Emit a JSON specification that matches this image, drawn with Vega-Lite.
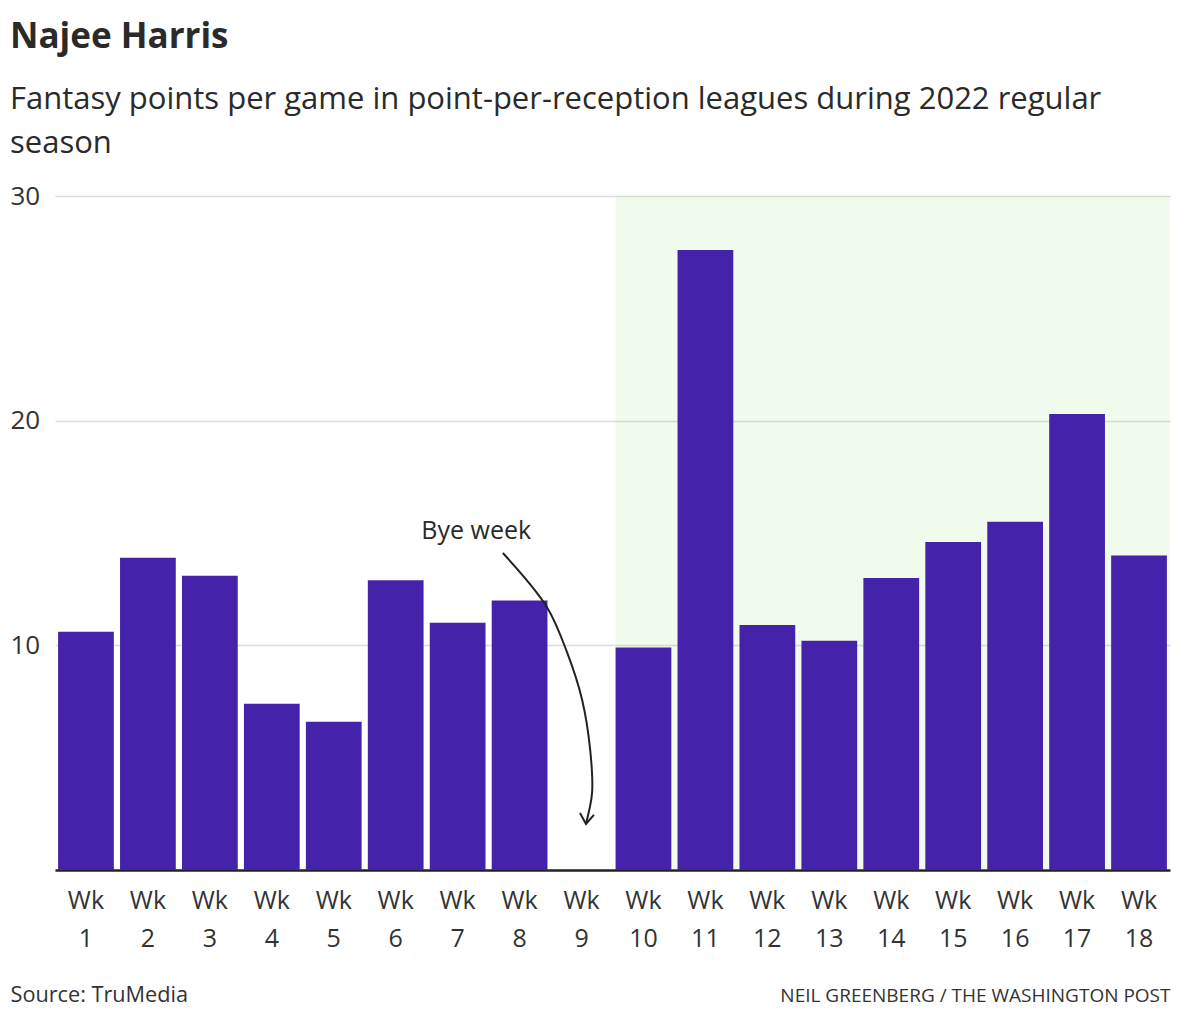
{
  "$schema": "https://vega.github.io/schema/vega-lite/v6.json",
  "width": 1115,
  "height": 674,
  "autosize": {"type": "none"},
  "padding": {"left": 55, "top": 196, "right": 10, "bottom": 150},
  "background": "white",
  "title": {
    "text": "Najee Harris",
    "subtitle": ["Fantasy points per game in point-per-reception leagues during 2022 regular", "season"],
    "anchor": "start",
    "frame": "group",
    "dx": -45,
    "offset": 24,
    "font": "Open Sans",
    "fontSize": 35,
    "fontWeight": "bold",
    "color": "#2a2a2a",
    "subtitleFont": "Open Sans",
    "subtitleFontSize": 31,
    "subtitleColor": "#2a2a2a",
    "subtitleLineHeight": 44.5,
    "subtitlePadding": 30
  },
  "config": {
    "view": {"stroke": null},
    "font": "Open Sans",
    "axisY": {
      "grid": true,
      "gridColor": "#dcdcdc",
      "gridWidth": 1.5,
      "domain": false,
      "ticks": false,
      "tickSize": 0,
      "labelAlign": "left",
      "labelPadding": 45,
      "labelBaseline": "middle",
      "labelFontSize": 26,
      "labelColor": "#333333"
    }
  },
  "datasets": {
    "weeks": [
      {"week": 1, "pts": 10.6},
      {"week": 2, "pts": 13.9},
      {"week": 3, "pts": 13.1},
      {"week": 4, "pts": 7.4},
      {"week": 5, "pts": 6.6},
      {"week": 6, "pts": 12.9},
      {"week": 7, "pts": 11.0},
      {"week": 8, "pts": 12.0},
      {"week": 9, "pts": null},
      {"week": 10, "pts": 9.9},
      {"week": 11, "pts": 27.6},
      {"week": 12, "pts": 10.9},
      {"week": 13, "pts": 10.2},
      {"week": 14, "pts": 13.0},
      {"week": 15, "pts": 14.6},
      {"week": 16, "pts": 15.5},
      {"week": 17, "pts": 20.3},
      {"week": 18, "pts": 14.0}
    ],
    "shade": [{"from": 9.55, "to": 18.5}],
    "curve": [
      {"ord": 1, "x": 7.73, "y": 14.11},
      {"ord": 2, "x": 8.44, "y": 11.71},
      {"ord": 3, "x": 8.77, "y": 9.66},
      {"ord": 4, "x": 9.01, "y": 7.57},
      {"ord": 5, "x": 9.14, "y": 5.34},
      {"ord": 6, "x": 9.17, "y": 3.43},
      {"ord": 7, "x": 9.07, "y": 2.05}
    ],
    "head": [
      {"ord": 1, "x": 8.975, "y": 2.54},
      {"ord": 2, "x": 9.072, "y": 2.05},
      {"ord": 3, "x": 9.2, "y": 2.45}
    ],
    "note": [{"label": "Bye week", "x": 7.3, "y": 15.1}]
  },
  "layer": [
    {
      "data": {"name": "shade"},
      "mark": {"type": "rect", "color": "#96e173", "opacity": 0.13},
      "encoding": {
        "x": {
          "field": "from",
          "type": "quantitative",
          "scale": {"domain": [0.5, 18.5], "nice": false, "zero": false},
          "axis": {
            "orient": "bottom",
            "domain": false,
            "ticks": false,
            "labels": false,
            "grid": false,
            "title": "NEIL GREENBERG / THE WASHINGTON POST",
            "titleAnchor": "end",
            "titleAlign": "right",
            "titleX": 1115,
            "titleY": 131,
            "titleBaseline": "alphabetic",
            "titleFontSize": 19,
            "titleFontWeight": "normal",
            "titleColor": "#333333"
          }
        },
        "x2": {"field": "to"},
        "y": {"datum": 0, "type": "quantitative", "scale": {"domain": [0, 30], "nice": false}, "axis": {"title": null, "values": [10, 20, 30]}},
        "y2": {"datum": 30}
      }
    },
    {
      "data": {"name": "weeks"},
      "mark": {"type": "bar", "color": "#4422aa"},
      "encoding": {
        "x": {
          "field": "week",
          "type": "ordinal",
          "scale": {"domain": [1, 2, 3, 4, 5, 6, 7, 8, 9, 10, 11, 12, 13, 14, 15, 16, 17, 18], "paddingInner": 0.1, "paddingOuter": 0.05},
          "axis": {
            "orient": "bottom",
            "title": "Source: TruMedia",
            "titleAnchor": "start",
            "titleAlign": "left",
            "titleX": -45,
            "titleY": 131,
            "titleBaseline": "alphabetic",
            "titleFontSize": 21.7,
            "titleFontWeight": "normal",
            "titleColor": "#333333",
            "labelExpr": "['Wk', datum.label]",
            "labelAngle": 0,
            "labelBaseline": "top",
            "labelPadding": 18,
            "labelLineHeight": 38.5,
            "labelFontSize": 25,
            "labelColor": "#333333",
            "ticks": false,
            "domainColor": "#222222",
            "domainWidth": 2.5,
            "grid": false
          }
        },
        "y": {"field": "pts", "type": "quantitative", "axis": {"title": null, "values": [10, 20, 30]}}
      }
    },
    {
      "data": {"name": "curve"},
      "mark": {"type": "line", "interpolate": "catmull-rom", "color": "#222222", "strokeWidth": 2},
      "encoding": {
        "x": {"field": "x", "type": "quantitative", "scale": {"domain": [0.5, 18.5], "nice": false, "zero": false}, "axis": null},
        "y": {"field": "y", "type": "quantitative", "axis": {"title": null, "values": [10, 20, 30]}},
        "order": {"field": "ord"}
      }
    },
    {
      "data": {"name": "head"},
      "mark": {"type": "line", "color": "#222222", "strokeWidth": 2},
      "encoding": {
        "x": {"field": "x", "type": "quantitative", "scale": {"domain": [0.5, 18.5], "nice": false, "zero": false}, "axis": null},
        "y": {"field": "y", "type": "quantitative", "axis": {"title": null, "values": [10, 20, 30]}},
        "order": {"field": "ord"}
      }
    },
    {
      "data": {"name": "note"},
      "mark": {"type": "text", "fontSize": 25, "color": "#2a2a2a", "align": "center", "baseline": "middle"},
      "encoding": {
        "x": {"field": "x", "type": "quantitative", "scale": {"domain": [0.5, 18.5], "nice": false, "zero": false}, "axis": null},
        "y": {"field": "y", "type": "quantitative", "axis": {"title": null, "values": [10, 20, 30]}},
        "text": {"field": "label"}
      }
    }
  ],
  "resolve": {"scale": {"x": "independent"}, "axis": {"x": "independent"}}
}
